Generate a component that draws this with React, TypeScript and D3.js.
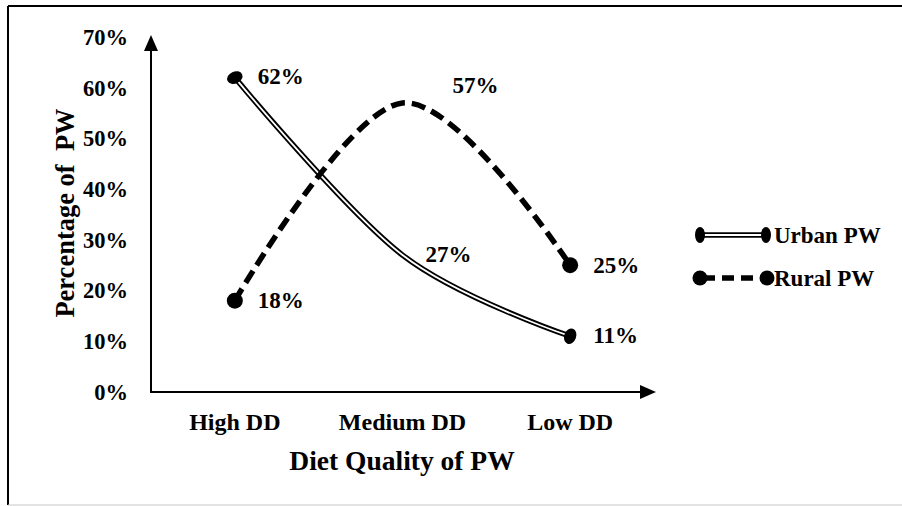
import React from "react";
import * as d3 from "d3";

const categories = ["High DD", "Medium DD", "Low DD"];
const urbanValues = [62, 27, 11];
const ruralValues = [18, 57, 25];
const yTicks = [0, 10, 20, 30, 40, 50, 60, 70];
const seriesNames = ["Urban PW", "Rural PW"];

const W = 902;
const H = 506;
const FONT = "'Liberation Serif', 'Times New Roman', serif";

export default function App() {
  const x = d3.scalePoint<string>().domain(categories).range([151, 654]).padding(0.5);
  const y = d3.scaleLinear().domain([0, 70]).range([392, 37]);
  const line = d3
    .line<number>()
    .x((_, i) => x(categories[i]) as number)
    .y((d) => y(d))
    .curve(d3.curveCardinal.tension(0));

  const urbanPath = line(urbanValues) || "";
  const ruralPath = line(ruralValues) || "";

  const urbanLabelOffsets = [
    [23, 6],
    [23, 7],
    [23, 7],
  ];
  const ruralLabelOffsets = [
    [23, 7],
    [50, -10],
    [23, 8],
  ];
  const urbanRot = [-25, 0, 20];

  return (
    <svg
      width={W}
      height={H}
      style={{ position: "absolute", left: 0, top: 0, background: "#fff" }}
      fontFamily={FONT}
      fontWeight="bold"
    >
      {/* frame */}
      <line x1={8} y1={6} x2={W} y2={6} stroke="#000" strokeWidth={2} />
      <line x1={8} y1={6} x2={8} y2={505} stroke="#000" strokeWidth={2} />
      <line x1={8} y1={505} x2={W} y2={505} stroke="#c8c8c8" strokeWidth={1} />

      {/* axes */}
      <line x1={151} y1={y(0)} x2={151} y2={48} stroke="#000" strokeWidth={2} />
      <path d={`M151,35 L144,51 L158,51 Z`} fill="#000" />
      <line x1={150} y1={y(0)} x2={642} y2={y(0)} stroke="#000" strokeWidth={2} />
      <path d={`M656,${y(0)} L640,${y(0) - 7} L640,${y(0) + 7} Z`} fill="#000" />

      {/* y tick labels */}
      {yTicks.map((t) => (
        <text key={t} x={128} y={y(t)} dy="0.35em" textAnchor="end" fontSize={22.5}>
          {t}%
        </text>
      ))}

      {/* x tick labels */}
      {categories.map((c) => (
        <text key={c} x={x(c)} y={430} textAnchor="middle" fontSize={24}>
          {c}
        </text>
      ))}

      {/* axis titles */}
      <text x={402} y={470} textAnchor="middle" fontSize={27.5}>
        Diet Quality of PW
      </text>
      <text
        transform={`translate(74,213) rotate(-90)`}
        textAnchor="middle"
        fontSize={26.5}
        style={{ whiteSpace: "pre" }}
      >
        Percentage of  PW
      </text>

      {/* Urban line: double line */}
      <path d={urbanPath} fill="none" stroke="#000" strokeWidth={5.5} />
      <path d={urbanPath} fill="none" stroke="#fff" strokeWidth={1.8} />

      {/* Rural dashed line */}
      <path d={ruralPath} fill="none" stroke="#000" strokeWidth={5.5} strokeDasharray="14 7" />

      {/* markers */}
      {urbanValues.map((v, i) =>
        i === 1 ? null : (
          <ellipse
            key={"u" + i}
            cx={0}
            cy={0}
            rx={i === 0 ? 8 : 6}
            ry={i === 0 ? 6 : 8}
            transform={`translate(${x(categories[i])},${y(v)}) rotate(${urbanRot[i]})`}
            fill="#000"
          />
        )
      )}
      {ruralValues.map((v, i) =>
        i === 1 ? null : (
          <circle key={"r" + i} cx={x(categories[i])} cy={y(v)} r={8} fill="#000" />
        )
      )}

      {/* data labels */}
      {urbanValues.map((v, i) => (
        <text
          key={"ul" + i}
          x={(x(categories[i]) as number) + urbanLabelOffsets[i][0]}
          y={y(v) + urbanLabelOffsets[i][1]}
          fontSize={23}
        >
          {v}%
        </text>
      ))}
      {ruralValues.map((v, i) => (
        <text
          key={"rl" + i}
          x={(x(categories[i]) as number) + ruralLabelOffsets[i][0]}
          y={y(v) + ruralLabelOffsets[i][1]}
          fontSize={23}
        >
          {v}%
        </text>
      ))}

      {/* legend */}
      <g>
        <line x1={698} y1={235} x2={765} y2={235} stroke="#000" strokeWidth={5.5} />
        <line x1={698} y1={235} x2={765} y2={235} stroke="#fff" strokeWidth={1.8} />
        <ellipse cx={700} cy={235} rx={5} ry={8} fill="#000" />
        <ellipse cx={766} cy={235} rx={5} ry={8} fill="#000" />
        <text x={774} y={243} fontSize={23}>
          {seriesNames[0]}
        </text>

        <line x1={700} y1={278} x2={766} y2={278} stroke="#000" strokeWidth={5.5} strokeDasharray="12 7" strokeDashoffset={-3} />
        <circle cx={700} cy={278} r={7.5} fill="#000" />
        <circle cx={767} cy={278} r={7.5} fill="#000" />
        <text x={774} y={286} fontSize={23}>
          {seriesNames[1]}
        </text>
      </g>
    </svg>
  );
}
